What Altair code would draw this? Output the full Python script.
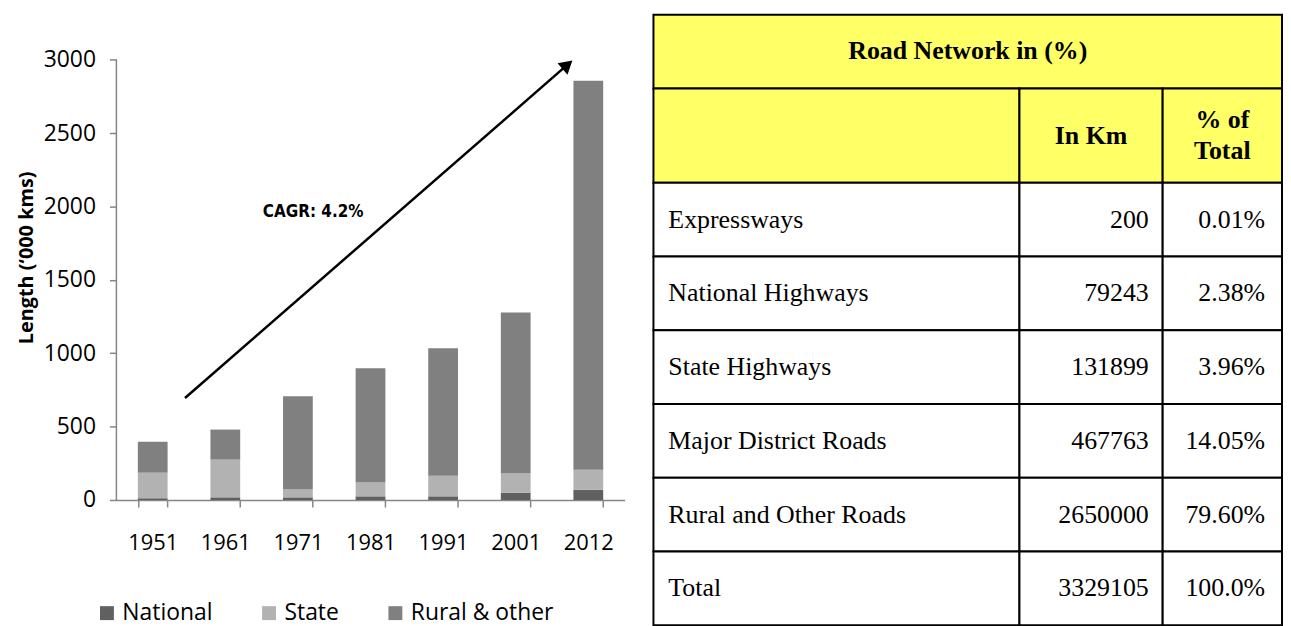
import altair as alt
import pandas as pd

# ---------------- data ----------------
years = ["1951", "1961", "1971", "1981", "1991", "2001", "2012"]
national = [12, 18, 18, 25, 25, 50, 70]
state = [174, 257, 53, 94, 141, 130, 137]
rural = [211, 205, 637, 779, 868, 1098, 2651]
series = ["National", "State", "Rural & other"]
series_colors = ["#606060", "#b2b2b2", "#808080"]
y_ticks = [0, 500, 1000, 1500, 2000, 2500, 3000]

# CAGR arrow (x in category units, y in '000 km)
arrow_x = [0.945, 6.19]
arrow_y = [695, 2957]
cagr_label = ["CAGR: 4.2%"]
cagr_x = [2.71]
cagr_y = [1966]

table_title = "Road Network in (%)"
col_headers = ["", "In Km", "% of\nTotal"]
road_types = ["Expressways", "National Highways", "State Highways",
              "Major District Roads", "Rural and Other Roads", "Total"]
road_km = [200, 79243, 131899, 467763, 2650000, 3329105]
road_pct = ["0.01%", "2.38%", "3.96%", "14.05%", "79.60%", "100.0%"]

# ---------------- layout ----------------
W_BAR, H_BAR = 511, 488
Y_TOP = 3308
col_widths = [368, 144, 120]
row_heights = [1.0, 1.28, 1, 1, 1, 1, 1, 1]
W_TAB, H_TAB = sum(col_widths), 614
YELLOW = "#ffff66"
SANS = "Open Sans"
SERIF = "Liberation Serif"

# ---------------- bar chart ----------------
rows = []
for i, y in enumerate(years):
    for k, (s, vals) in enumerate(zip(series, [national, state, rural])):
        rows.append({"year": y, "series": s, "value": vals[i], "order": k})
bar_df = pd.DataFrame(rows)

yscale = alt.Scale(domain=[0, Y_TOP], nice=False, zero=True)
qx = alt.Scale(domain=[0, 7], nice=False, zero=False)

bars = alt.Chart(bar_df).mark_bar().encode(
    x=alt.X("year:N", sort=years,
            scale=alt.Scale(paddingInner=0.59, paddingOuter=0.295),
            axis=alt.Axis(title=None, labelAngle=0, tickBand="extent", tickSize=7,
                          labelPadding=26, domainColor="#868686", tickColor="#868686",
                          domainWidth=1.5, tickWidth=1.5,
                          labelFontSize=22, labelFont=SANS, labelColor="black")),
    y=alt.Y("value:Q", stack="zero", scale=yscale,
            axis=alt.Axis(values=y_ticks, format="d", title="Length (‘000 kms)",
                          domain=False, grid=False,
                          tickSize=7, tickColor="#868686", tickWidth=1.5, labelPadding=14,
                          labelFontSize=23, labelFont=SANS, labelColor="black",
                          titleFont=SANS, titleFontSize=20, titleFontWeight="bold",
                          titleColor="black", titlePadding=7)),
    color=alt.Color("series:N", scale=alt.Scale(domain=series, range=series_colors),
                    legend=alt.Legend(orient="none", legendX=-21, legendY=590,
                                      direction="horizontal", title=None,
                                      symbolType="square", symbolSize=196,
                                      symbolStrokeWidth=0, labelFontSize=23,
                                      labelFont=SANS, labelColor="black",
                                      columnPadding=45, labelOffset=4, padding=0)),
    order=alt.Order("order:Q"),
)

axis_line = alt.Chart(pd.DataFrame({"a": [0]})).mark_rule(
    color="#868686", strokeWidth=1.5
).encode(x=alt.value(0), y=alt.datum(0, scale=yscale), y2=alt.datum(y_ticks[-1]))

arrow_df = pd.DataFrame({"x": arrow_x, "value": arrow_y})
arrow = alt.Chart(arrow_df).mark_line(color="black", strokeWidth=2.5).encode(
    x=alt.X("x:Q", scale=qx, axis=None),
    y=alt.Y("value:Q", scale=yscale),
)
head = alt.Chart(arrow_df.tail(1)).mark_point(
    shape="triangle", filled=True, color="black", opacity=1, size=230, angle=49
).encode(
    x=alt.X("x:Q", scale=qx, axis=None),
    y=alt.Y("value:Q", scale=yscale),
)
cagr = alt.Chart(pd.DataFrame({"x": cagr_x, "value": cagr_y, "t": cagr_label})).mark_text(
    font="Liberation Sans Narrow, DejaVu Sans Condensed, Roboto Condensed, sans-serif",
    fontWeight="bold", fontSize=17, color="black"
).encode(
    x=alt.X("x:Q", scale=qx, axis=None),
    y=alt.Y("value:Q", scale=yscale),
    text="t:N",
)

bar_chart = alt.layer(bars, axis_line, arrow, head, cagr).resolve_scale(
    x="independent"
).properties(width=W_BAR, height=H_BAR)

# ---------------- table ----------------
col_edges = [0]
for w in col_widths:
    col_edges.append(col_edges[-1] + w)
row_edges = [0.0]
for h in row_heights:
    row_edges.append(row_edges[-1] + h)
TOTAL_H = row_edges[-1]

cells = [{"x0": 0, "x1": W_TAB, "y0": row_edges[0], "y1": row_edges[1], "fill": YELLOW}]
for c in range(3):
    cells.append({"x0": col_edges[c], "x1": col_edges[c + 1],
                  "y0": row_edges[1], "y1": row_edges[2], "fill": YELLOW})
for r in range(len(road_types)):
    for c in range(3):
        cells.append({"x0": col_edges[c], "x1": col_edges[c + 1],
                      "y0": row_edges[r + 2], "y1": row_edges[r + 3], "fill": "white"})
cells_df = pd.DataFrame(cells)

tx = alt.Scale(domain=[0, W_TAB], nice=False, zero=False)
ty = alt.Scale(domain=[0, TOTAL_H], nice=False, zero=False, reverse=True)

rects = alt.Chart(cells_df).mark_rect(stroke="black", strokeWidth=2).encode(
    x=alt.X("x0:Q", scale=tx, axis=None), x2="x1:Q",
    y=alt.Y("y0:Q", scale=ty, axis=None), y2="y1:Q",
    fill=alt.Fill("fill:N", scale=None),
)

sub_y = (row_edges[1] + row_edges[2]) / 2
title_df = pd.DataFrame([
    {"x": W_TAB / 2, "y": (row_edges[0] + row_edges[1]) / 2, "t": table_title},
    {"x": (col_edges[1] + col_edges[2]) / 2, "y": sub_y, "t": col_headers[1]},
])
pct_head_df = pd.DataFrame([
    {"x": (col_edges[2] + col_edges[3]) / 2, "y": sub_y, "t": col_headers[2]},
])

def head_text(df, dy):
    return alt.Chart(df).mark_text(
        font=SERIF, fontSize=26, fontWeight="bold", color="black",
        align="center", baseline="middle", lineBreak="\n", lineHeight=31, dy=dy
    ).encode(x=alt.X("x:Q", scale=tx, axis=None), y=alt.Y("y:Q", scale=ty, axis=None), text="t:N")

centers = [(row_edges[r + 2] + row_edges[r + 3]) / 2 for r in range(len(road_types))]
left_df = pd.DataFrame({"x": [col_edges[0]] * 6, "y": centers, "t": road_types})
km_df = pd.DataFrame({"x": [col_edges[2]] * 6, "y": centers, "t": [str(v) for v in road_km]})
pct_df = pd.DataFrame({"x": [col_edges[3]] * 6, "y": centers, "t": road_pct})

def body(df, align, dx):
    return alt.Chart(df).mark_text(
        font=SERIF, fontSize=26, color="black", align=align, baseline="middle", dx=dx
    ).encode(x=alt.X("x:Q", scale=tx, axis=None), y=alt.Y("y:Q", scale=ty, axis=None), text="t:N")

table = alt.layer(
    rects, head_text(title_df, 0), head_text(pct_head_df, -15.5),
    body(left_df, "left", 15), body(km_df, "right", -14), body(pct_df, "right", -17)
).properties(width=W_TAB, height=H_TAB)

chart = alt.hconcat(bar_chart, table, spacing=28).resolve_scale(
    color="independent"
).resolve_legend(color="independent").properties(
    padding={"left": 8, "top": 4, "right": 0, "bottom": 0}
).configure_view(stroke=None)

chart.save("out.html", embed_options={"renderer": "svg", "actions": False})
